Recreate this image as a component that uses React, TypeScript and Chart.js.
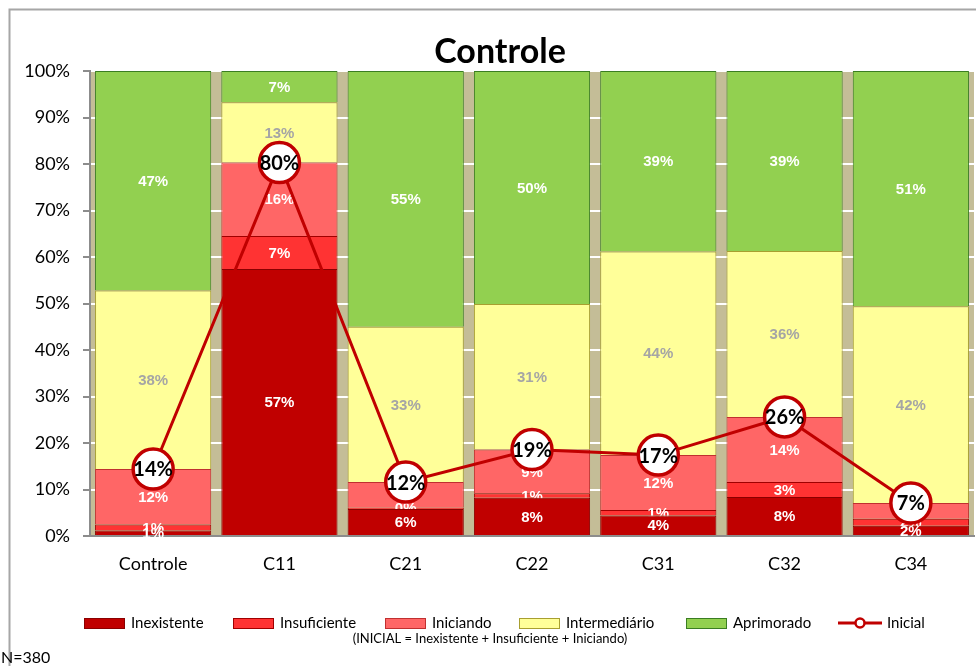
import { useEffect, useRef } from 'react';
import { Chart, registerables } from 'chart.js';

Chart.register(...registerables);

const categories = ['Controle', 'C11', 'C21', 'C22', 'C31', 'C32', 'C34'];
const inexistente = [1.2, 57.4, 5.8, 8.2, 4.4, 8.4, 2.2];
const insuficiente = [1.3, 7.1, 0.3, 1.0, 1.2, 3.2, 1.5];
const iniciando = [11.9, 15.8, 5.5, 9.4, 11.8, 14.0, 3.4];
const intermediario = [38.4, 13.0, 33.4, 31.3, 43.8, 35.7, 42.3];
const aprimorado = [47.2, 6.7, 55.0, 50.1, 38.8, 38.7, 50.6];
const inicial = [14.4, 80.3, 11.6, 18.6, 17.4, 25.6, 7.1];
const yTicks = [0, 10, 20, 30, 40, 50, 60, 70, 80, 90, 100];

const TITLE = 'Controle';
const SUBTITLE = '(INICIAL = Inexistente + Insuficiente + Iniciando)';
const NOTE = 'N=380';

const FONT = 'Lato, "Open Sans", sans-serif';
const LABEL_FONT = '"Liberation Sans", Arial, sans-serif';

const barSeries = [
  { label: 'Inexistente', data: inexistente, bg: '#C00000', border: '#8A0000', text: '#FFFFFF' },
  { label: 'Insuficiente', data: insuficiente, bg: '#FF3333', border: '#A00000', text: '#FFFFFF' },
  { label: 'Iniciando', data: iniciando, bg: '#FF6666', border: '#C03030', text: '#FFFFFF' },
  { label: 'Intermediário', data: intermediario, bg: '#FFFF99', border: '#A89F30', text: '#A5A5A5' },
  { label: 'Aprimorado', data: aprimorado, bg: '#92D050', border: '#3A7D22', text: '#FFFFFF' },
];

const decorPlugin = {
  id: 'decor',
  beforeDraw(chart: any) {
    const { ctx, chartArea, width, height } = chart;
    ctx.save();
    ctx.fillStyle = '#FFFFFF';
    ctx.fillRect(0, 0, width, height);
    ctx.fillStyle = '#C4BD97';
    ctx.fillRect(chartArea.left, chartArea.top, chartArea.right - chartArea.left, chartArea.bottom - chartArea.top);
    ctx.restore();
  },
  afterDatasetDraw(chart: any, args: any) {
    const { ctx } = chart;
    const ds: any = chart.data.datasets[args.index];
    const meta = args.meta;
    ctx.save();
    ctx.textAlign = 'center';
    ctx.textBaseline = 'middle';
    if (ds.type === 'bar') {
      ctx.font = `bold 15px ${LABEL_FONT}`;
      ctx.fillStyle = ds._textColor;
      meta.data.forEach((el: any, i: number) => {
        const v = ds.data[i];
        const y = (el.y + el.base) / 2;
        ctx.fillText(Math.round(v) + '%', el.x, y + 1);
      });
    } else if (ds.type === 'line') {
      ctx.font = `bold 20px ${FONT}`;
      ctx.fillStyle = '#000000';
      meta.data.forEach((el: any, i: number) => {
        ctx.fillText(Math.round(ds.data[i]) + '%', el.x, el.y + 1);
      });
    }
    ctx.restore();
  },
  afterDraw(chart: any) {
    const { ctx, width, height } = chart;
    ctx.save();
    // outer frame
    ctx.strokeStyle = '#A6A6A6';
    ctx.lineWidth = 2;
    ctx.beginPath();
    ctx.moveTo(9.5, height);
    ctx.lineTo(9.5, 9.5);
    ctx.lineTo(width, 9.5);
    ctx.stroke();

    // title
    ctx.fillStyle = '#000000';
    ctx.textAlign = 'center';
    ctx.textBaseline = 'alphabetic';
    ctx.font = `bold 34px ${FONT}`;
    ctx.fillText(TITLE, 500, 63);

    // legend
    const starts = [84, 233, 385, 519, 686];
    const ly = 623;
    ctx.font = `15px ${FONT}`;
    ctx.textAlign = 'left';
    ctx.textBaseline = 'middle';
    barSeries.forEach((s, i) => {
      const x = starts[i];
      ctx.fillStyle = s.bg;
      ctx.fillRect(x, ly - 5, 41, 10);
      ctx.strokeStyle = s.border;
      ctx.lineWidth = 1;
      ctx.strokeRect(x + 0.5, ly - 4.5, 40, 10);
      ctx.fillStyle = '#000000';
      ctx.fillText(s.label, x + 47, ly);
    });
    // line legend
    ctx.strokeStyle = '#C00000';
    ctx.lineWidth = 3;
    ctx.beginPath();
    ctx.moveTo(838, ly);
    ctx.lineTo(882, ly);
    ctx.stroke();
    ctx.beginPath();
    ctx.arc(860, ly, 4.5, 0, Math.PI * 2);
    ctx.fillStyle = '#FFFFFF';
    ctx.fill();
    ctx.lineWidth = 2.5;
    ctx.stroke();
    ctx.fillStyle = '#000000';
    ctx.fillText('Inicial', 887, ly);

    // subtitle
    ctx.font = `13px ${FONT}`;
    ctx.textAlign = 'center';
    ctx.fillText(SUBTITLE, 490, 639);

    // note
    ctx.font = `16px ${FONT}`;
    ctx.textAlign = 'left';
    ctx.fillText(NOTE, 1, 658);
    ctx.restore();
  },
};

export default function App() {
  const ref = useRef<HTMLCanvasElement>(null);
  useEffect(() => {
    document.body.style.margin = '0';
    const datasets: any[] = [
      {
        type: 'line',
        label: 'Inicial',
        data: inicial,
        stack: 'line',
        order: 0,
        borderColor: '#C00000',
        borderWidth: 3,
        tension: 0,
        pointRadius: 20,
        pointHoverRadius: 20,
        pointBackgroundColor: '#FFFFFF',
        pointBorderColor: '#C00000',
        pointBorderWidth: 3.5,
        fill: false,
        clip: false,
      },
      ...barSeries.map((s) => ({
        type: 'bar',
        label: s.label,
        data: s.data,
        stack: 'bars',
        order: 1,
        backgroundColor: s.bg,
        borderColor: s.border,
        borderWidth: 1,
        barPercentage: 0.92,
        categoryPercentage: 1,
        _textColor: s.text,
      })),
    ];
    const chart = new Chart(ref.current as HTMLCanvasElement, {
      type: 'bar',
      data: { labels: categories, datasets },
      options: {
        responsive: false,
        animation: false,
        devicePixelRatio: 1,
        layout: { autoPadding: false, padding: { left: 10, top: 71, right: 2, bottom: 70 } },
        plugins: {
          legend: { display: false },
          title: { display: false },
          tooltip: { enabled: false },
        },
        scales: {
          x: {
            stacked: true,
            grid: { display: false },
            border: { display: true, color: '#8C8C8C', width: 2 },
            ticks: { color: '#000000', font: { family: FONT, size: 18 }, padding: 9 },
            afterFit: (s: any) => {
              s.height = 60;
              s.paddingLeft = 0;
              s.paddingRight = 0;
            },
          },
          y: {
            stacked: true,
            min: 0,
            max: 100,
            afterBuildTicks: (s: any) => {
              s.ticks = yTicks.map((v) => ({ value: v }));
            },
            ticks: {
              color: '#000000',
              font: { family: FONT, size: 18 },
              padding: 13,
              callback: (v: any) => v + '%',
            },
            grid: { color: '#FFFFFF', lineWidth: 2, tickColor: '#8C8C8C', tickLength: 7, drawTicks: true },
            border: { color: '#8C8C8C', width: 2 },
            afterFit: (s: any) => {
              s.width = 80;
            },
          },
        },
      } as any,
      plugins: [decorPlugin],
    });
    return () => chart.destroy();
  }, []);
  return (
    <div style={{ position: 'relative', width: 976, height: 666, background: '#FFFFFF' }}>
      <canvas ref={ref} width={976} height={666} style={{ display: 'block', width: 976, height: 666 }} />
    </div>
  );
}
